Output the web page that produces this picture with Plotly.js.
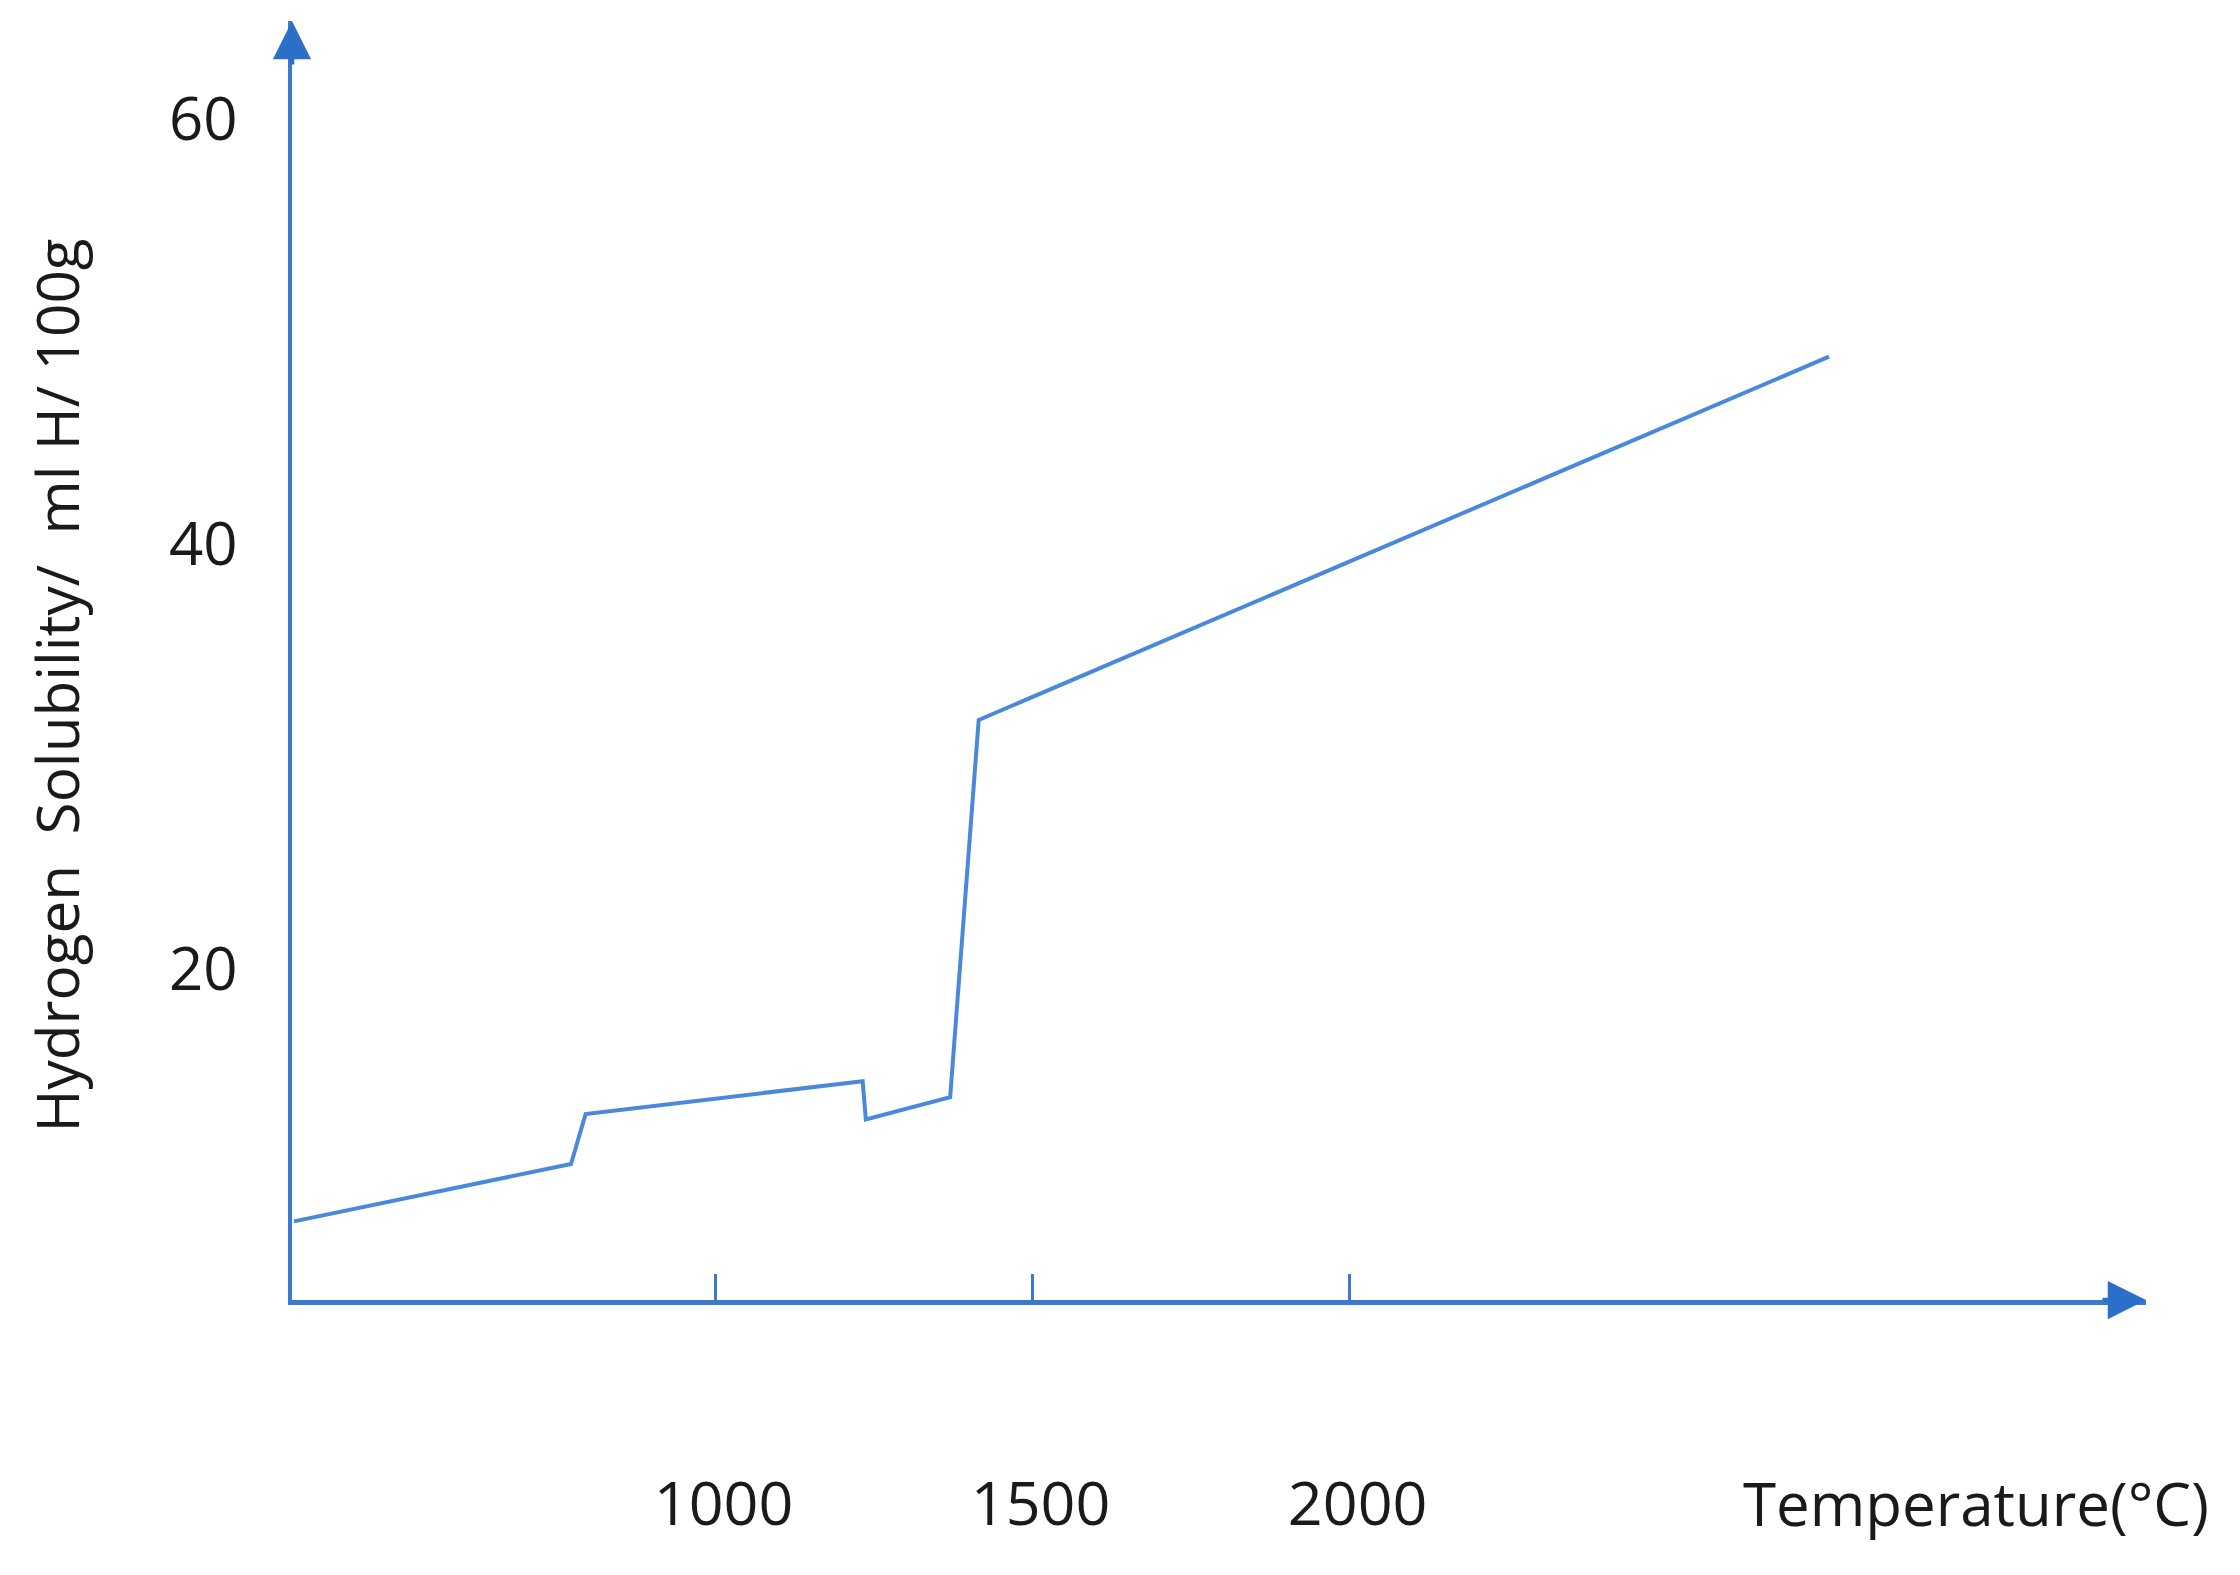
<!DOCTYPE html>
<html>
<head>
<meta charset="utf-8">
<script src="https://cdn.plot.ly/plotly-3.0.1.min.js"></script>
<style>
  html, body { margin: 0; padding: 0; background: #ffffff; }
  #solChart { width: 2240px; height: 1575px; }
</style>
</head>
<body>
<div id="solChart"></div>
<script>
// temperature points (°C)
var temp_c = [335, 772, 795, 1232, 1237, 1370, 1415, 2756];
// hydrogen solubility, ml H / 100g
var solubility = [8.1, 10.8, 13.15, 14.7, 12.9, 13.95, 31.7, 48.8];

// tick labels
var x_ticks = [1000, 1500, 2000];
var x_tick_text = ["1000", "1500", "2000"];
var y_ticks = [20, 40, 60];
var y_tick_text = ["20", "40", "60"];

var axis_color = "#3a7bd0";
var line_color = "#4a89da";
var arrow_color = "#2a6fc8";
var txt_font = "'Open Sans', Lato, sans-serif";

var trace = {
	type: "scatter",
	mode: "lines",
	x: temp_c,
	y: solubility,
	line: { color: line_color, width: 4 },
	hoverinfo: "skip"
};

var layout = {
	width: 2240,
	height: 1575,
	paper_bgcolor: "#ffffff",
	plot_bgcolor: "#ffffff",
	showlegend: false,
	margin: { l: 292, r: 94, t: 21, b: 275 },
	font: { family: txt_font, color: "#1a1a1a" },
	xaxis: {
		range: [332, 3256],
		showgrid: false,
		zeroline: false,
		showline: true,
		linecolor: axis_color,
		linewidth: 4.5,
		ticks: "inside",
		ticklen: 26,
		tickwidth: 2.5,
		tickcolor: axis_color,
		tickvals: x_ticks,
		ticktext: x_tick_text,
		ticklabelstandoff: 147,
		ticklabelshift: 8,
		tickfont: { family: txt_font, size: 61, color: "#1a1a1a" }
	},
	yaxis: {
		range: [4.4, 64.6],
		showgrid: false,
		zeroline: false,
		showline: true,
		linecolor: axis_color,
		linewidth: 4.5,
		ticks: "",
		tickvals: y_ticks,
		ticktext: y_tick_text,
		ticklabelstandoff: 38,
		tickfont: { family: txt_font, size: 60, color: "#1a1a1a" }
	},
	annotations: [
		// arrow heads on the two axes
		{
			xref: "paper", yref: "paper", x: 0, y: 1,
			ax: 0, ay: 45, text: "",
			showarrow: true, arrowhead: 2, arrowsize: 1.7, arrowwidth: 4.5,
			arrowcolor: arrow_color
		},
		{
			xref: "paper", yref: "paper", x: 1, y: 0,
			ax: -45, ay: 0, text: "",
			showarrow: true, arrowhead: 2, arrowsize: 1.7, arrowwidth: 4.5,
			arrowcolor: arrow_color
		},
		// axis titles
		{
			xref: "paper", yref: "paper", x: 1.035, y: -0.159,
			xanchor: "right", yanchor: "middle",
			text: "Temperature(°C)", showarrow: false,
			font: { family: txt_font, size: 60, color: "#1a1a1a" }
		},
		{
			xref: "paper", yref: "paper", x: -0.127, y: 0.48,
			xanchor: "center", yanchor: "middle", textangle: -90,
			text: "Hydrogen\u00a0 Solubility/\u00a0 ml H/ 100g", showarrow: false,
			font: { family: txt_font, size: 58.5, color: "#1a1a1a" }
		}
	]
};

var config = { displayModeBar: false, staticPlot: true };

Plotly.newPlot("solChart", [trace], layout, config);
</script>
</body>
</html>
